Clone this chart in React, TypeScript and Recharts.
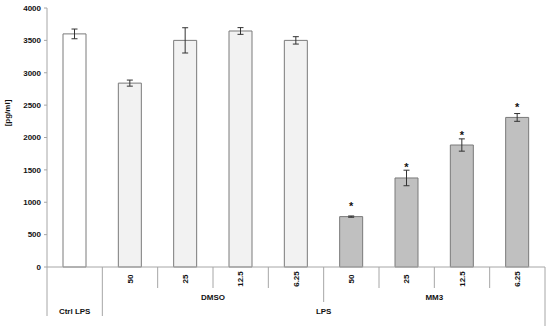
import React from 'react';
import { BarChart, Bar, XAxis, YAxis, ErrorBar, Cell, LabelList } from 'recharts';

const categories = ['Ctrl LPS', '50', '25', '12.5', '6.25', '50', '25', '12.5', '6.25'];
const treatments = ['', 'DMSO', 'DMSO', 'DMSO', 'DMSO', 'MM3', 'MM3', 'MM3', 'MM3'];
const values = [3600, 2840, 3500, 3645, 3500, 778, 1375, 1884, 2310];
const errors = [75, 47, 195, 52, 57, 10, 120, 95, 60];
const significant = [false, false, false, false, false, true, true, true, true];
const yTicks = [0, 500, 1000, 1500, 2000, 2500, 3000, 3500, 4000];
const outerGroupLabel = 'LPS';
const yLabel = '[pg/ml]';

const fills: Record<string, string> = { '': '#ffffff', DMSO: '#f2f2f2', MM3: '#c0c0c0' };

const data = categories.map((c, i) => ({
  key: `k${i}`,
  label: c,
  group: treatments[i],
  value: values[i],
  err: errors[i],
  sig: significant[i] ? '*' : '',
}));

const W = 550;
const H = 326;
const M = { top: 8, right: 5, bottom: 0, left: 0 };
const Y_W = 47;
const X_H = 59;
const BW = (W - M.left - M.right - Y_W) / categories.length;
const FONT = '"Liberation Sans", Arial, sans-serif';
const LINE = '#a6a6a6';

const XTick = (props: any) => {
  const { x, y, payload } = props;
  const i = payload.index;
  const els: React.ReactNode[] = [];
  const txt = (key: string, tx: number, ty: number, s: string, rot = false) => (
    <text
      key={key}
      x={tx}
      y={ty}
      textAnchor="middle"
      dominantBaseline="central"
      transform={rot ? `rotate(-90, ${tx}, ${ty})` : undefined}
      fontFamily={FONT}
      fontWeight="bold"
      fontSize={8}
      fill="#111"
    >
      {s}
    </text>
  );
  if (treatments[i] === '') {
    els.push(txt('c', x, y + 44, categories[i]));
    els.push(<line key="l" x1={x - BW / 2} x2={x - BW / 2} y1={y} y2={y + 49} stroke={LINE} />);
  } else {
    els.push(txt('n', x, y + 12, categories[i], true));
    const g = treatments[i];
    if (treatments[i - 1] !== g) {
      let n = 0;
      while (treatments[i + n] === g) n++;
      els.push(txt('g', x + ((n - 1) * BW) / 2, y + 30, g));
    }
    if (treatments[i - 1] === '') {
      const n = categories.length - i;
      els.push(txt('o', x + ((n - 1) * BW) / 2, y + 44, outerGroupLabel));
    }
  }
  let len = 21;
  if (i === categories.length - 1) len = 60;
  else if (treatments[i] === '') len = 49;
  else if (treatments[i + 1] !== treatments[i]) len = 35;
  els.push(<line key="r" x1={x + BW / 2} x2={x + BW / 2} y1={y} y2={y + len} stroke={LINE} />);
  return <g>{els}</g>;
};

const Star = (props: any) => {
  const { x, y, width, value } = props;
  if (!value) return null;
  return (
    <text
      x={x + width / 2}
      y={y - 6.5}
      textAnchor="middle"
      fontFamily={FONT}
      fontWeight="bold"
      fontSize={11}
      fill="#111"
    >
      {value}
    </text>
  );
};

export default function App() {
  return (
    <div style={{ position: 'absolute', left: 0, top: 0, width: W, height: H, background: '#fff' }}>
      <BarChart width={W} height={H} data={data} margin={M} barCategoryGap={0}>
        <XAxis
          dataKey="key"
          height={X_H}
          axisLine={{ stroke: LINE }}
          tickLine={false}
          tickSize={0}
          tickMargin={0}
          interval={0}
          tick={<XTick />}
        />
        <YAxis
          width={Y_W}
          domain={[0, 4000]}
          ticks={yTicks}
          interval={0}
          axisLine={{ stroke: LINE }}
          tickLine={{ stroke: LINE }}
          tickSize={3}
          tickMargin={3}
          tick={{ fontFamily: FONT, fontWeight: 'bold', fontSize: 8, fill: '#111' }}
          label={{
            content: () => (
              <text
                x={7}
                y={113}
                transform="rotate(-90, 7, 113)"
                textAnchor="middle"
                dominantBaseline="central"
                fontFamily={FONT}
                fontWeight="bold"
                fontSize={8}
                fill="#111"
              >
                {yLabel}
              </text>
            ),
          }}
        />
        <Bar dataKey="value" barSize={23} stroke="#7a7a7a" strokeWidth={1} isAnimationActive={false}>
          {data.map((d) => (
            <Cell key={d.key} fill={fills[d.group]} />
          ))}
          <ErrorBar dataKey="err" width={3} stroke="#333" strokeWidth={1} />
          <LabelList dataKey="sig" content={<Star />} />
        </Bar>
      </BarChart>
    </div>
  );
}
